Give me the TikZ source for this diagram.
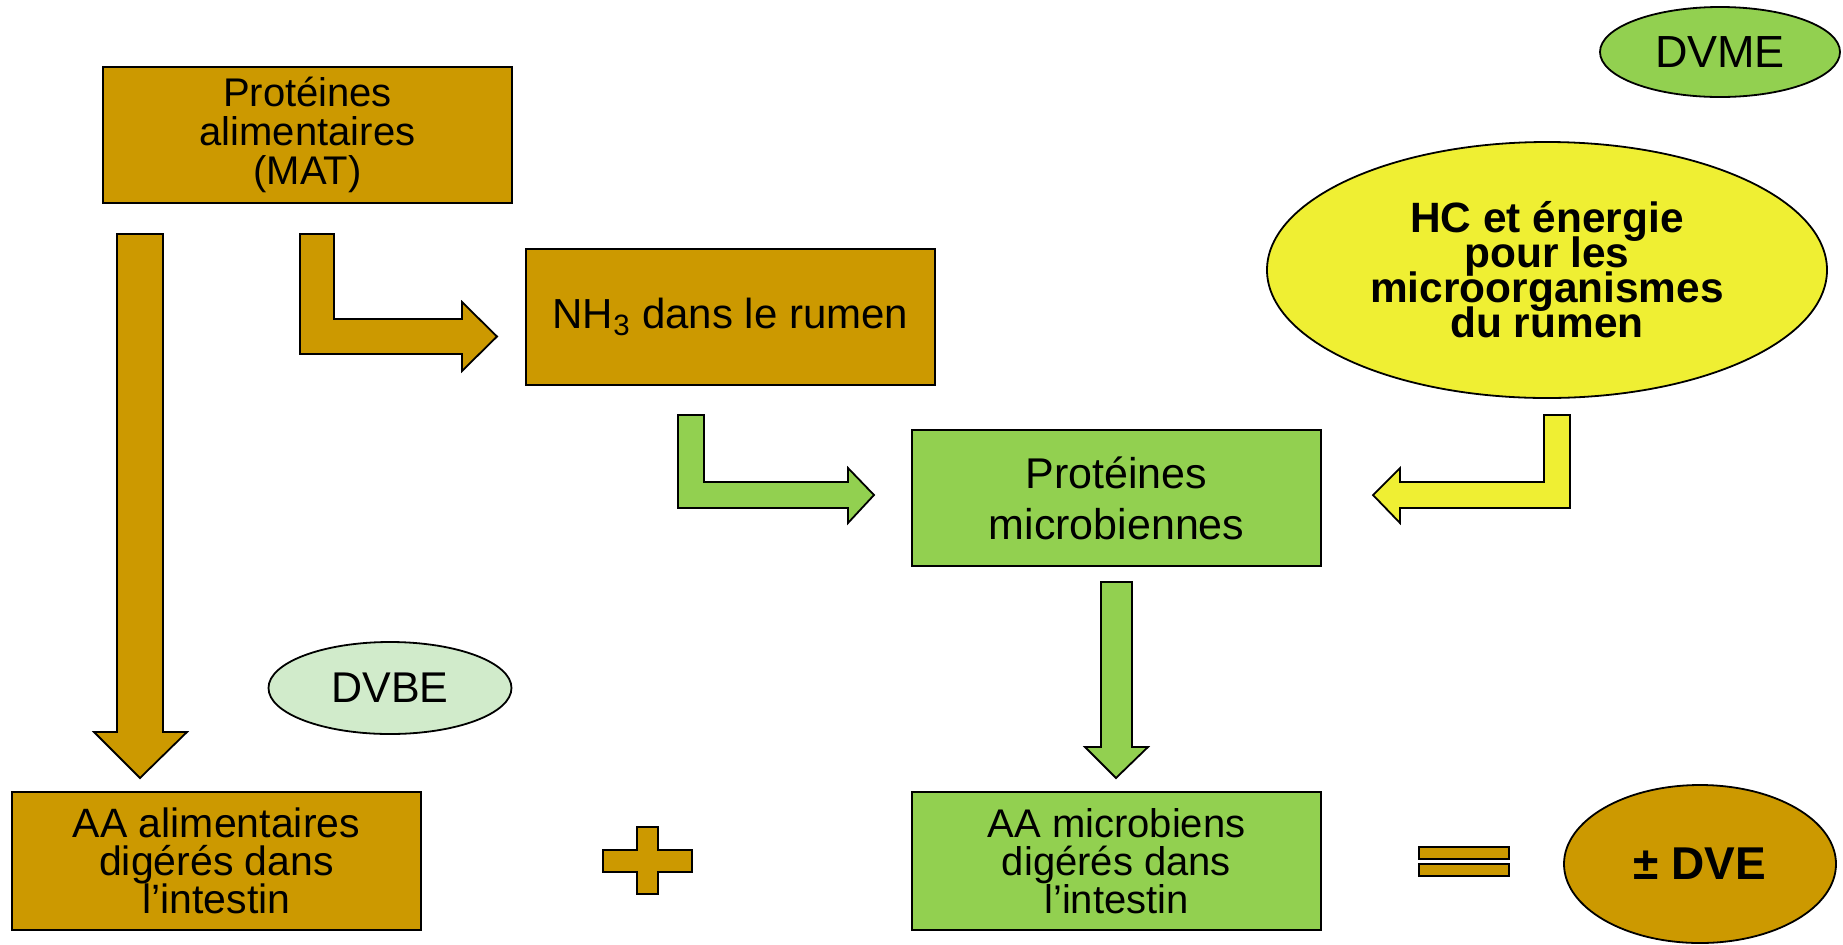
\documentclass[tikz,border=0pt]{standalone}
\usepackage{fontspec}
\setmainfont{Liberation Sans}
\usetikzlibrary{shapes.geometric}
\definecolor{ocre}{HTML}{CC9900}
\definecolor{vert}{HTML}{92D050}
\definecolor{jaune}{HTML}{EFEF33}
\definecolor{vertpale}{HTML}{D1EBCB}
\newcommand{\taille}[2]{\fontsize{#1}{#2}\selectfont\lineskiplimit=-20pt}

\begin{document}
\begin{tikzpicture}[x=0.5pt, y=-0.5pt,
    box/.style={rectangle, draw, line width=0.9pt, minimum width=204.5pt, minimum height=68pt, align=center, font=\taille{20.5}{19}},
    bulle/.style={ellipse, draw, line width=0.9pt, inner sep=0pt, align=center, font=\taille{21.5}{20}},
    fleche/.style={draw, line width=0.9pt, line join=miter}]
    \useasboundingbox (0,0) rectangle (1843,944);
    % boites
    \node[box, fill=ocre, font=\taille{20}{19.5}] (mat) at (307.5,135) {Protéines\\alimentaires\\(MAT)};
    \node[box, fill=ocre, font=\taille{21}{21}] (nh3) at (730.5,317) {\raisebox{-2.5pt}{NH\textsubscript{3} dans le rumen}};
    \node[box, fill=vert, font=\taille{21.5}{27}] (micro) at (1116.5,498) {\raisebox{-1.5pt}{Protéines}\\microbiennes};
    \node[box, fill=ocre, minimum height=69pt] (aaal) at (216.5,861) {AA alimentaires\\digérés dans\\l’intestin};
    \node[box, fill=vert, minimum height=69pt, font=\taille{20}{19}] (aami) at (1116.5,861) {AA microbiens\\digérés dans\\l’intestin};
    % ellipses
    \node[bulle, fill=vert, minimum width=120pt, minimum height=45pt, font=\taille{22.5}{22}] (dvme) at (1720,52) {DVME};
    \node[bulle, fill=jaune, minimum width=280pt, minimum height=128pt, font=\taille{21.2}{17.5}\bfseries] (hc) at (1547,270) {HC et énergie\\pour les\\microorganismes\\du rumen};
    \node[bulle, fill=vertpale, minimum width=121.5pt, minimum height=46pt] (dvbe) at (390,688) {DVBE};
    \node[bulle, fill=ocre, minimum width=136pt, minimum height=79pt, font=\taille{23}{23}\bfseries] (dve) at (1700,864) {± DVE};
    % fleches
    \filldraw[fleche, fill=ocre] (117,234) -- (163,234) -- (163,732) -- (187,732) -- (140,778) -- (94,732) -- (117,732) -- cycle;
    \filldraw[fleche, fill=ocre] (300,234) -- (334,234) -- (334,319) -- (462,319) -- (462,302) -- (497,336.5) -- (462,371) -- (462,354) -- (300,354) -- cycle;
    \filldraw[fleche, fill=vert] (678,415) -- (704,415) -- (704,482) -- (848,482) -- (848,468) -- (874,495) -- (848,523) -- (848,508) -- (678,508) -- cycle;
    \filldraw[fleche, fill=jaune] (1570,415) -- (1544,415) -- (1544,482) -- (1400,482) -- (1400,468) -- (1373,495) -- (1400,523) -- (1400,508) -- (1570,508) -- cycle;
    \filldraw[fleche, fill=vert] (1101,582) -- (1132,582) -- (1132,747) -- (1148,747) -- (1116,778) -- (1085,747) -- (1101,747) -- cycle;
    % plus et egal
    \filldraw[fleche, fill=ocre] (637,827) -- (658,827) -- (658,850) -- (692,850) -- (692,872) -- (658,872) -- (658,894) -- (637,894) -- (637,872) -- (603,872) -- (603,850) -- (637,850) -- cycle;
    \filldraw[fleche, fill=ocre] (1419,847) rectangle (1509,859);
    \filldraw[fleche, fill=ocre] (1419,864) rectangle (1509,876);
\end{tikzpicture}
\end{document}
